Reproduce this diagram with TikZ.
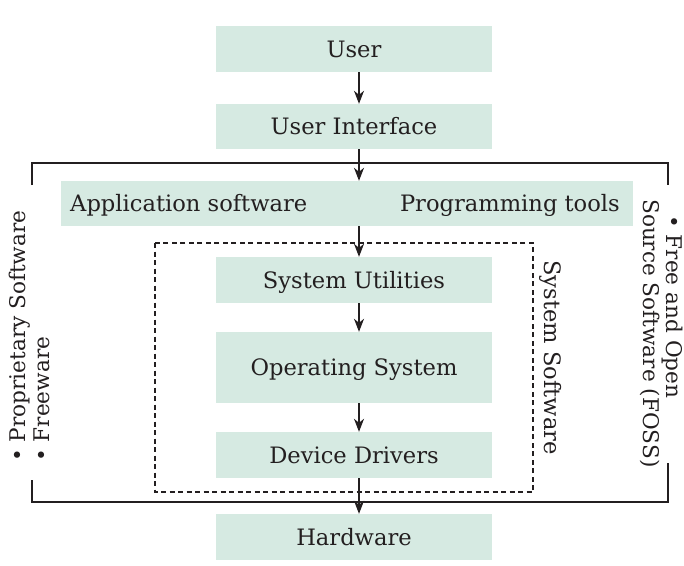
\documentclass[tikz,border=0pt]{standalone}
\usepackage{fontspec}
\setmainfont{DejaVu Serif}
\usetikzlibrary{arrows.meta}
\definecolor{boxgreen}{RGB}{214,234,226}
\definecolor{ink}{RGB}{35,31,32}
\tikzset{
  txtfont/.style={text=ink, font=\fontsize{22.6}{26}\selectfont},
  box/.style={txtfont, fill=boxgreen, draw=none, minimum width=276pt, inner sep=0pt, text height=16.5pt, text depth=0pt},
  lbl/.style={txtfont, inner sep=0pt, text height=16.5pt, text depth=0pt},
  sidelbl/.style={text=ink, font=\fontsize{21.6}{25}\selectfont, inner sep=0pt},
  arr/.style={draw=ink, line width=1.3pt, -{Stealth[length=13pt, width=10pt, inset=4pt]}},
  frame/.style={draw=ink, line width=1.1pt},
  dashframe/.style={draw=ink, line width=1.1pt, dash pattern=on 5pt off 3.5pt}
}
\begin{document}
\begin{tikzpicture}[x=1pt, y=-1pt]
\useasboundingbox (0,0) rectangle (684,565);
\fill[white] (0,0) rectangle (684,565);
% boxes
\node[box, minimum height=46pt] (user) at (354,49) {User};
\node[box, minimum height=45pt] (ui) at (354,126.5) {User Interface};
\node[box, minimum width=572pt, minimum height=45pt] (app) at (347,203.5) {};
\node[lbl, anchor=west] (apptxt) at (70,203.5) {Application software};
\node[lbl, anchor=east] (progtxt) at (620,203.5) {Programming tools};
\node[box, minimum height=46pt] (su) at (354,280) {System Utilities};
\node[box, minimum height=71pt] (os) at (354,367.5) {Operating System};
\node[box, minimum height=46pt] (dd) at (354,455) {Device Drivers};
\node[box, minimum height=46pt] (hw) at (354,537) {Hardware};
% dashed system software frame
\draw[dashframe] (155,243) rectangle (533,492);
\node[lbl, rotate=-90] (syssw) at (553,357.5) {System Software};
% outer bracket
\draw[frame] (32,185) -- (32,163) -- (668,163) -- (668,185);
\draw[frame] (32,480) -- (32,502) -- (668,502) -- (668,463);
% side texts
\node[sidelbl, rotate=90, anchor=base west] (prop) at (25,462) {• Proprietary Software};
\node[sidelbl, rotate=90, anchor=base west] (free) at (49,462) {• Freeware};
\node[sidelbl, rotate=-90, anchor=base west] (foss1) at (666,215) {• Free and Open};
\node[sidelbl, rotate=-90, anchor=base west] (foss2) at (643,199) {Source Software (FOSS)};
% arrows
\coordinate (ax) at (359,0);
\draw[arr] (user.south -| ax) -- (ui.north -| ax);
\draw[arr] (ui.south -| ax) -- (app.north -| ax);
\draw[arr] (app.south -| ax) -- (su.north -| ax);
\draw[arr] (su.south -| ax) -- (os.north -| ax);
\draw[arr] (os.south -| ax) -- (dd.north -| ax);
\draw[arr] (dd.south -| ax) -- (hw.north -| ax);
\end{tikzpicture}
\end{document}
